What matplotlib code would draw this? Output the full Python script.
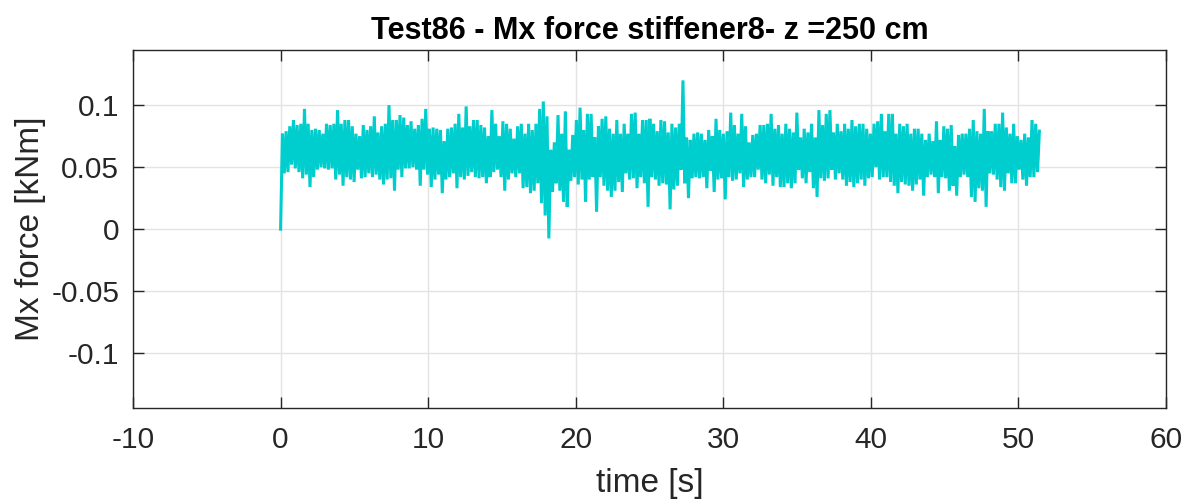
import numpy as np
import matplotlib
matplotlib.use('Agg')
import matplotlib.pyplot as plt

# sample step of the logged signal [s]
dt = 0.1245

# lower / upper excursions of Mx, one pair per 0.25 s window
mx_lo = [
    0.000, 0.045, 0.046, 0.052, 0.049, 0.046, 0.041, 0.044, 0.034, 0.042,
    0.048, 0.050, 0.049, 0.048, 0.049, 0.040, 0.044, 0.035, 0.042, 0.040,
    0.038, 0.048, 0.041, 0.042, 0.045, 0.042, 0.044, 0.040, 0.036, 0.040,
    0.041, 0.031, 0.048, 0.042, 0.049, 0.049, 0.050, 0.048, 0.035, 0.048,
    0.044, 0.034, 0.040, 0.044, 0.029, 0.040, 0.042, 0.045, 0.033, 0.042,
    0.040, 0.043, 0.046, 0.042, 0.041, 0.042, 0.037, 0.042, 0.046, 0.048,
    0.042, 0.031, 0.040, 0.045, 0.042, 0.045, 0.033, 0.034, 0.029, 0.031,
    0.037, 0.021, 0.011, -0.0075, 0.030, 0.037, 0.031, 0.022, 0.018, 0.039,
    0.042, 0.036, 0.040, 0.022, 0.040, 0.042, 0.014, 0.042, 0.035, 0.031,
    0.026, 0.031, 0.038, 0.030, 0.045, 0.040, 0.041, 0.033, 0.042, 0.037,
    0.018, 0.042, 0.040, 0.035, 0.037, 0.036, 0.016, 0.032, 0.035, 0.048,
    0.037, 0.025, 0.041, 0.042, 0.041, 0.042, 0.033, 0.047, 0.030, 0.040,
    0.041, 0.024, 0.042, 0.039, 0.040, 0.045, 0.034, 0.040, 0.042, 0.042,
    0.048, 0.040, 0.037, 0.044, 0.035, 0.042, 0.034, 0.034, 0.037, 0.033,
    0.037, 0.048, 0.041, 0.037, 0.046, 0.033, 0.026, 0.041, 0.039, 0.041,
    0.048, 0.040, 0.045, 0.040, 0.035, 0.038, 0.034, 0.037, 0.040, 0.035,
    0.041, 0.042, 0.050, 0.040, 0.042, 0.042, 0.038, 0.035, 0.029, 0.038,
    0.036, 0.035, 0.031, 0.036, 0.040, 0.027, 0.042, 0.044, 0.042, 0.029,
    0.042, 0.041, 0.031, 0.035, 0.027, 0.042, 0.044, 0.042, 0.026, 0.022,
    0.033, 0.031, 0.018, 0.045, 0.044, 0.040, 0.034, 0.031, 0.045, 0.037,
    0.037, 0.048, 0.040, 0.035, 0.042, 0.042, 0.046,
]
mx_hi = [
    0.077, 0.079, 0.083, 0.088, 0.084, 0.085, 0.097, 0.085, 0.080, 0.081,
    0.080, 0.077, 0.085, 0.084, 0.085, 0.096, 0.085, 0.088, 0.088, 0.083,
    0.077, 0.075, 0.084, 0.080, 0.083, 0.091, 0.078, 0.083, 0.085, 0.100,
    0.088, 0.088, 0.092, 0.090, 0.084, 0.087, 0.081, 0.084, 0.089, 0.097,
    0.081, 0.082, 0.081, 0.080, 0.071, 0.081, 0.082, 0.085, 0.093, 0.082,
    0.099, 0.083, 0.088, 0.088, 0.084, 0.082, 0.075, 0.096, 0.085, 0.075,
    0.087, 0.085, 0.081, 0.073, 0.083, 0.085, 0.077, 0.085, 0.080, 0.085,
    0.097, 0.103, 0.091, 0.064, 0.070, 0.092, 0.077, 0.095, 0.064, 0.076,
    0.088, 0.098, 0.080, 0.093, 0.093, 0.074, 0.083, 0.089, 0.091, 0.081,
    0.077, 0.088, 0.077, 0.085, 0.077, 0.093, 0.094, 0.077, 0.088, 0.088,
    0.089, 0.085, 0.079, 0.088, 0.087, 0.078, 0.085, 0.082, 0.085, 0.120,
    0.074, 0.072, 0.077, 0.078, 0.077, 0.072, 0.080, 0.075, 0.089, 0.080,
    0.077, 0.079, 0.094, 0.084, 0.077, 0.093, 0.083, 0.070, 0.076, 0.077,
    0.084, 0.084, 0.085, 0.093, 0.081, 0.084, 0.077, 0.085, 0.081, 0.078,
    0.094, 0.074, 0.081, 0.078, 0.085, 0.074, 0.096, 0.084, 0.093, 0.096,
    0.078, 0.085, 0.079, 0.085, 0.081, 0.088, 0.083, 0.085, 0.085, 0.081,
    0.077, 0.085, 0.087, 0.093, 0.079, 0.093, 0.093, 0.077, 0.085, 0.083,
    0.085, 0.077, 0.081, 0.081, 0.077, 0.072, 0.077, 0.071, 0.087, 0.072,
    0.083, 0.081, 0.084, 0.067, 0.076, 0.077, 0.077, 0.081, 0.088, 0.079,
    0.077, 0.097, 0.079, 0.079, 0.085, 0.085, 0.094, 0.082, 0.077, 0.085,
    0.075, 0.072, 0.077, 0.074, 0.088, 0.085, 0.079,
]

x_ticks = [-10, 0, 10, 20, 30, 40, 50, 60]
y_ticks = [-0.1, -0.05, 0, 0.05, 0.1]
y_ticklabels = ['-0.1', '-0.05', '0', '0.05', '0.1']

mx = np.column_stack([mx_lo, mx_hi]).ravel()
t = np.arange(len(mx)) * dt

plt.rcParams['font.family'] = ['Liberation Sans', 'DejaVu Sans']
plt.rcParams['axes.unicode_minus'] = False

fig = plt.figure(figsize=(11.92, 5.03), dpi=100)
ax = fig.add_axes([0.1116, 0.1883, 0.8666, 0.7123])

ax.plot(t, mx, color='#00CDCD', linewidth=2.2, solid_joinstyle='miter')

ax.set_xlim(-10, 60)
ax.set_ylim(-0.1445, 0.1445)
ax.set_xticks(x_ticks)
ax.set_xticklabels([str(v) for v in x_ticks])
ax.set_yticks(y_ticks)
ax.set_yticklabels(y_ticklabels)

ax.grid(True, color='#E3E3E3', linewidth=1.0)
ax.set_axisbelow(True)
ax.tick_params(direction='in', length=8, width=1.0, colors='#262626',
               labelsize=21.5, top=True, right=True)
ax.tick_params(axis='x', pad=13)
ax.tick_params(axis='y', pad=10)
for sp in ax.spines.values():
    sp.set_color('#262626')
    sp.set_linewidth(1.0)

ax.set_title('Test86 - Mx force stiffener8- z =250 cm', fontsize=22,
             fontweight='bold', pad=8)
ax.set_xlabel('time [s]', fontsize=24, color='#262626', labelpad=10)
ax.set_ylabel('Mx force [kNm]', fontsize=24, color='#262626', labelpad=4)

fig.savefig('out.png', dpi=100)
